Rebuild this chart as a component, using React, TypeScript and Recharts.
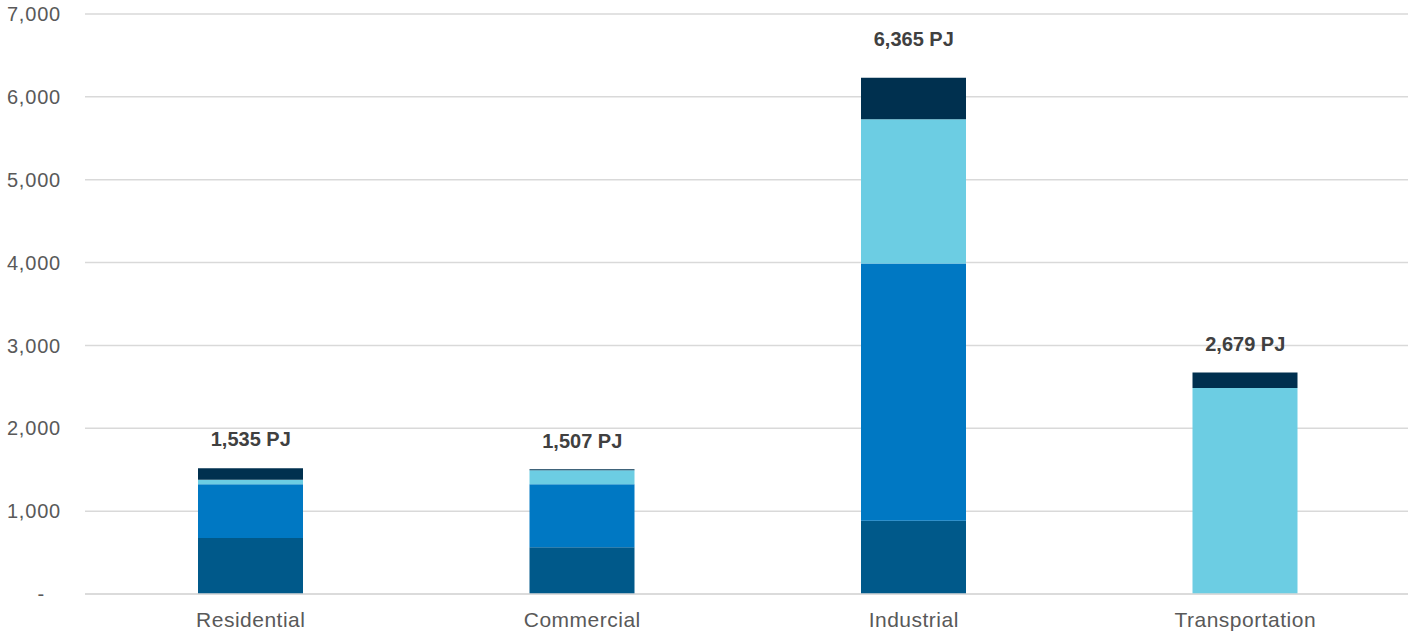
import React from 'react';
import { ComposedChart, Bar, Line, XAxis, YAxis, CartesianGrid, LabelList } from 'recharts';

const categories = ['Residential', 'Commercial', 'Industrial', 'Transportation'];
const darkTeal = [676, 563, 885, 0];
const blue = [650, 763, 3104, 0];
const lightBlue = [52, 169, 1742, 2485];
const navy = [141, 12, 500, 189];
const totals = [1535, 1507, 6365, 2679];
const yTicks = [0, 1000, 2000, 3000, 4000, 5000, 6000, 7000];

const data = categories.map((name, i) => ({
  name,
  s1: darkTeal[i],
  s2: blue[i],
  s3: lightBlue[i],
  s4: navy[i],
  total: totals[i],
}));

const font = '"Liberation Sans", Arial, sans-serif';

const YTick = ({ x, y, payload }: any) => (
  <text
    x={payload.value === 0 ? x - 16 : x}
    y={y}
    dy="0.355em"
    textAnchor="end"
    fill="#595959"
    fontSize={20}
    letterSpacing={0.8}
    fontFamily={font}
  >
    {payload.value === 0 ? '-' : payload.value.toLocaleString('en-US')}
  </text>
);

const App: React.FC = () => {
  return (
    <div style={{ position: 'absolute', left: 0, top: 0, background: '#fff' }}>
      <ComposedChart
        width={1408}
        height={634}
        data={data}
        margin={{ top: 14, right: -3, left: 0, bottom: 0 }}
      >
        <CartesianGrid vertical={false} stroke="#d9d9d9" strokeWidth={1.5} />
        <XAxis
          dataKey="name"
          height={40}
          tickLine={false}
          tickSize={0}
          tickMargin={18}
          axisLine={{ stroke: '#d9d9d9', strokeWidth: 1.5 }}
          tick={{ fill: '#595959', fontSize: 21, fontFamily: font, letterSpacing: 0.5 }}
        />
        <YAxis
          width={85}
          domain={[0, 7000]}
          ticks={yTicks}
          axisLine={false}
          tickLine={false}
          tickSize={0}
          tickMargin={24}
          tick={<YTick />}
        />
        <Bar dataKey="s1" stackId="a" fill="#00598a" barSize={105} isAnimationActive={false} />
        <Bar dataKey="s2" stackId="a" fill="#0078c3" barSize={105} isAnimationActive={false} />
        <Bar dataKey="s3" stackId="a" fill="#6ccde3" barSize={105} isAnimationActive={false} />
        <Bar dataKey="s4" stackId="a" fill="#00304f" barSize={105} isAnimationActive={false} />
        <Line
          dataKey="total"
          stroke="none"
          dot={false}
          activeDot={false}
          isAnimationActive={false}
        >
          <LabelList
            dataKey="total"
            position="top"
            offset={21}
            formatter={(v: any) => `${Number(v).toLocaleString('en-US')} PJ`}
            style={{ fill: '#404040', fontSize: 20, fontWeight: 'bold', fontFamily: font }}
          />
        </Line>
      </ComposedChart>
    </div>
  );
};

export default App;
